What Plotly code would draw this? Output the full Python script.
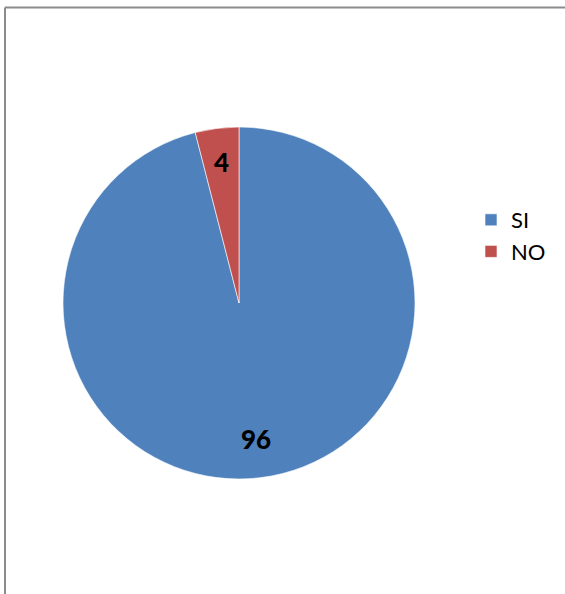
import math
import plotly.graph_objects as go

# Survey answers
labels = ["SI", "NO"]
values = [96, 4]
colors = ["#4F81BD", "#C0504D"]

W, H = 565, 594
cx, cy, R = 239, 303, 176  # pie centre and radius in pixels

fig = go.Figure(
    go.Pie(
        labels=labels,
        values=values,
        sort=False,
        direction="clockwise",
        rotation=0,
        marker=dict(colors=colors, line=dict(color="rgba(255,255,255,0.6)", width=1)),
        textinfo="none",
        hoverinfo="label+value",
        domain=dict(x=[(cx - R) / W, (cx + R) / W], y=[1 - (cy + R) / H, 1 - (cy - R) / H]),
    )
)

# Value labels placed at each slice's mid-angle
total = sum(values)
start = 0.0
label_r = [0.78, 0.81]
for i, v in enumerate(values):
    mid = start + v / total * 360 / 2
    start += v / total * 360
    ang = math.radians(mid)
    px = cx + label_r[i] * R * math.sin(ang)
    py = cy - label_r[i] * R * math.cos(ang)
    fig.add_annotation(
        x=px / W, y=1 - py / H, xref="paper", yref="paper",
        xanchor="center", yanchor="middle",
        text=str(v), showarrow=False,
        font=dict(family="Lato", size=26, color="#000000", weight=900),
    )

# Chart-area frame: left and top edges
frame = dict(color="#8C8C8C", width=2)
fig.add_shape(type="line", xref="paper", yref="paper",
              x0=5 / W, x1=5 / W, y0=0, y1=1 - 7.5 / H, line=frame)
fig.add_shape(type="line", xref="paper", yref="paper",
              x0=5 / W, x1=1, y0=1 - 7.5 / H, y1=1 - 7.5 / H, line=frame)

fig.update_layout(
    width=W, height=H,
    margin=dict(l=0, r=0, t=0, b=0),
    paper_bgcolor="white",
    plot_bgcolor="white",
    showlegend=True,
    legend=dict(
        x=471 / W, y=1 - 199 / H, xanchor="left", yanchor="top",
        font=dict(family="Lato", size=22, color="#000000"),
        bgcolor="rgba(0,0,0,0)",
    ),
)

fig.write_html("out.html", config={"displayModeBar": False})
